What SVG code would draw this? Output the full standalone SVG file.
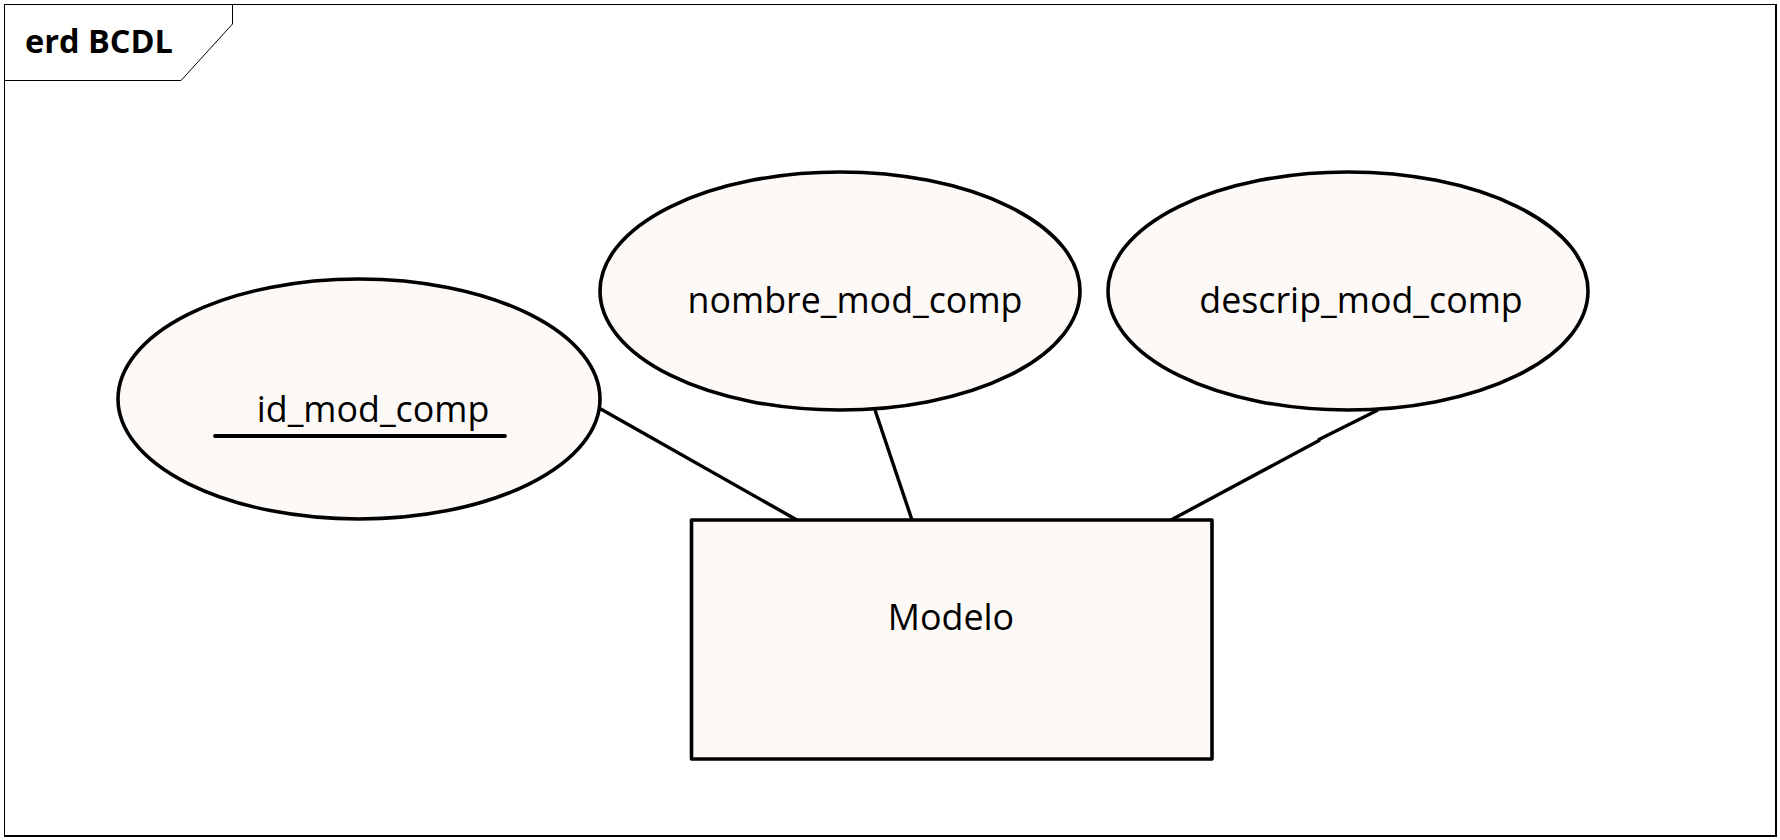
<svg xmlns="http://www.w3.org/2000/svg" width="1780" height="840" viewBox="0 0 1780 840">
<style>
.node{fill:#fdf9f6;stroke:#000;stroke-width:3.6;stroke-linejoin:round}
.lbl{font-family:"Open Sans","Liberation Sans",sans-serif;font-size:35.8px;fill:#000;text-anchor:middle}
.conn line,.conn path{stroke:#000;stroke-width:3.4;fill:none}
</style>
<rect x="0" y="0" width="1780" height="840" fill="#fff"/>
<g id="frame">
<rect x="4.5" y="4.5" width="1771" height="831" fill="#fff" stroke="#000" stroke-width="1"/>
<path d="M1776 4 V836 H4" fill="none" stroke="#000" stroke-width="2"/>
<path d="M4.5 80.5 H181 L232.5 24 V4.5" fill="none" stroke="#000" stroke-width="1"/>
<text x="25" y="53" font-family="'Open Sans','Liberation Sans',sans-serif" font-weight="bold" font-size="32.5" fill="#000">erd BCDL</text>
</g>
<g class="conn" id="connectors">
<line x1="599" y1="408" x2="797" y2="520"/>
<line x1="875" y1="410" x2="912" y2="520"/>
<path d="M1378 410 L1318 440 M1320 440 L1171 520"/>
</g>
<g id="id_mod_comp">
<ellipse class="node" cx="359" cy="399" rx="241" ry="120"/>
<text class="lbl" x="373" y="422">id_mod_comp</text>
<line x1="215" y1="436" x2="505" y2="436" stroke="#000" stroke-width="3.8" stroke-linecap="round"/>
</g>
<g id="nombre_mod_comp">
<ellipse class="node" cx="840" cy="291" rx="240" ry="119"/>
<text class="lbl" x="855" y="313">nombre_mod_comp</text>
</g>
<g id="descrip_mod_comp">
<ellipse class="node" cx="1348" cy="291" rx="240" ry="119"/>
<text class="lbl" x="1361" y="313">descrip_mod_comp</text>
</g>
<g id="Modelo">
<rect class="node" x="691.5" y="520" width="520.5" height="239"/>
<text class="lbl" x="951" y="630">Modelo</text>
</g>
</svg>
